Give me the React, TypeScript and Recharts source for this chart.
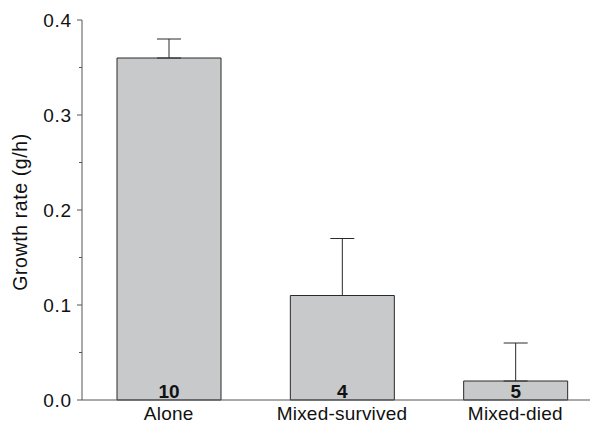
import React from 'react';
import { BarChart, Bar, XAxis, YAxis, ErrorBar, LabelList } from 'recharts';

const categories = ['Alone', 'Mixed-survived', 'Mixed-died'];
const growthRates = [0.36, 0.11, 0.02];
const errorsUp = [0.02, 0.06, 0.04];
const sampleSizes = [10, 4, 5];
const yTicks = [0, 0.05, 0.1, 0.15, 0.2, 0.25, 0.3, 0.35, 0.4];

const data = categories.map((c, i) => ({
  name: c,
  value: growthRates[i],
  err: [0, errorsUp[i]],
  n: sampleSizes[i],
}));

const FONT = '"Liberation Sans", Arial, Helvetica, sans-serif';

const YTick = (props: any) => {
  const { x, y, payload } = props;
  const v = payload.value;
  const major = Math.abs(Math.round(v * 10) - v * 10) < 1e-6;
  return (
    <g>
      <line x1={major ? x + 5 : x + 7} x2={x + 10} y1={y} y2={y} stroke="#555" strokeWidth={1} />
      {major && (
        <text x={x} y={y} dy="0.35em" textAnchor="end" fontSize={19} fontFamily={FONT} fill="#111" letterSpacing={0.8}>
          {v.toFixed(1)}
        </text>
      )}
    </g>
  );
};

const YLabel = (props: any) => {
  const { viewBox } = props;
  const cx = viewBox.x + 27;
  const cy = viewBox.y + viewBox.height / 2 + 2;
  return (
    <text x={cx} y={cy} transform={`rotate(-90, ${cx}, ${cy})`} textAnchor="middle" fontSize={19.5} fontFamily={FONT} fill="#111" letterSpacing={0.6}>
      Growth rate (g/h)
    </text>
  );
};

const NLabel = (props: any) => {
  const { x, y, width, height, value } = props;
  return (
    <text x={x + width / 2} y={y + height - 2.5} textAnchor="middle" fontSize={19} fontWeight="bold" fontFamily={FONT} fill="#111">
      {value}
    </text>
  );
};

export default function App() {
  return (
    <div style={{ position: 'absolute', left: 0, top: 0 }}>
      <BarChart width={591} height={432} data={data} margin={{ top: 20, right: 1, bottom: 0, left: 0 }} barSize={104}>
        <XAxis
          dataKey="name"
          height={32}
          tickLine={false}
          tickSize={0}
          tickMargin={7}
          stroke="#555"
          padding={{ left: 0, right: -12 }}
          tick={{ fontSize: 19, fontFamily: FONT, fill: '#111', letterSpacing: 0.2 } as any}
          interval={0}
        />
        <YAxis
          width={82}
          domain={[0, 0.4]}
          ticks={yTicks}
          tickSize={5}
          tickMargin={5}
          tickLine={false}
          stroke="#555"
          tick={<YTick />}
          interval={0}
          label={<YLabel />}
        />
        <Bar dataKey="value" fill="#c8c9cb" stroke="#2a2a2a" strokeWidth={1} isAnimationActive={false}>
          <ErrorBar dataKey="err" width={12} stroke="#2a2a2a" strokeWidth={1} direction="y" />
          <LabelList dataKey="n" content={<NLabel />} />
        </Bar>
      </BarChart>
    </div>
  );
}
